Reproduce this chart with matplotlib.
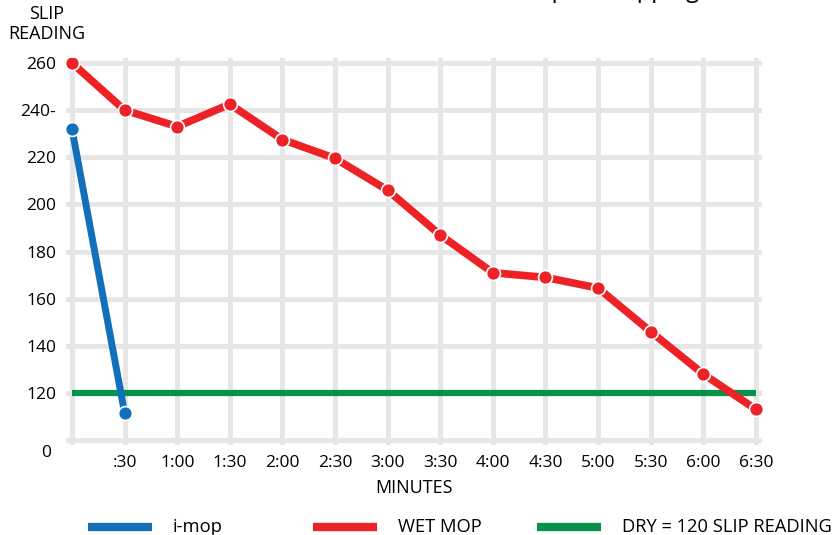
import matplotlib
matplotlib.use("Agg")
import matplotlib.pyplot as plt
from matplotlib.lines import Line2D

plt.rcParams["font.family"] = ["Open Sans", "DejaVu Sans"]

# minutes on the x axis
minutes = [0, 0.5, 1, 1.5, 2, 2.5, 3, 3.5, 4, 4.5, 5, 5.5, 6, 6.5]
tick_labels = [":30", "1:00", "1:30", "2:00", "2:30", "3:00", "3:30",
               "4:00", "4:30", "5:00", "5:30", "6:00", "6:30"]

wet_mop = [260, 240, 233, 242.5, 227.5, 219.5, 206, 187, 171, 169, 164.5, 146, 128, 113]
imop_minutes = [0, 0.5]
imop = [232, 111.5]
dry_level = 120

y_ticks = [120, 140, 160, 180, 200, 220, 240, 260]
y_tick_labels = ["120", "140", "160", "180", "200", "220", "240-", "260"]

RED = "#ec2227"
BLUE = "#1170b9"
GREEN = "#07914a"
FS = 12.5

fig = plt.figure(figsize=(8.32, 5.35), dpi=100)
ax = fig.add_axes([0.0793, 0.1682, 0.8365, 0.7234])

ax.plot([minutes[0], minutes[-1]], [dry_level, dry_level], color=GREEN, lw=4.5,
        solid_capstyle="butt", zorder=3)
ax.plot(imop_minutes, imop, color=BLUE, lw=5, marker="o", ms=10,
        markeredgecolor="white", markeredgewidth=1.2, zorder=4)
ax.plot(minutes, wet_mop, color=RED, lw=5.5, marker="o", ms=10,
        markeredgecolor="white", markeredgewidth=1.2, zorder=5)

ax.set_xlim(-0.057, 6.557)
ax.set_ylim(97.9, 262.1)

ax.set_xticks(minutes[1:])
ax.set_xticklabels(tick_labels, fontsize=FS)
ax.set_xticks([0], minor=True)
ax.set_yticks(y_ticks + [100])
ax.set_yticklabels(y_tick_labels + [""], fontsize=FS)
ax.tick_params(axis="both", which="both", length=0)
ax.tick_params(axis="x", pad=7)
ax.tick_params(axis="y", pad=7)
ax.text(-0.2, 94.5, "0", ha="right", va="center", fontsize=FS)

ax.grid(True, which="both", color="#e6e6e6", lw=3.6)
ax.set_axisbelow(True)
for s in ax.spines.values():
    s.set_visible(False)

ax.set_xlabel("MINUTES", fontsize=13, labelpad=6)
fig.text(0.056, 0.955, "SLIP\nREADING", ha="center", va="center", fontsize=13,
         linespacing=1.2)

# title is cropped at the top of the picture
fig.text(0.84, 1.005, "i-mop vs Mopping", ha="right", va="baseline", fontsize=17)

# legend drawn by hand to keep the wide, uneven spacing
legend_items = [(BLUE, "i-mop", 88), (RED, "WET MOP", 313), (GREEN, "DRY = 120 SLIP READING", 537)]
W, H = 832, 535
for color, label, x0 in legend_items:
    fig.add_artist(Line2D([x0 / W, (x0 + 64) / W], [8 / H, 8 / H], color=color, lw=6,
                          solid_capstyle="butt"))
    fig.text((x0 + 85) / W, 8 / H, label, ha="left", va="center", fontsize=13.2)

fig.savefig("out.png", dpi=100)
